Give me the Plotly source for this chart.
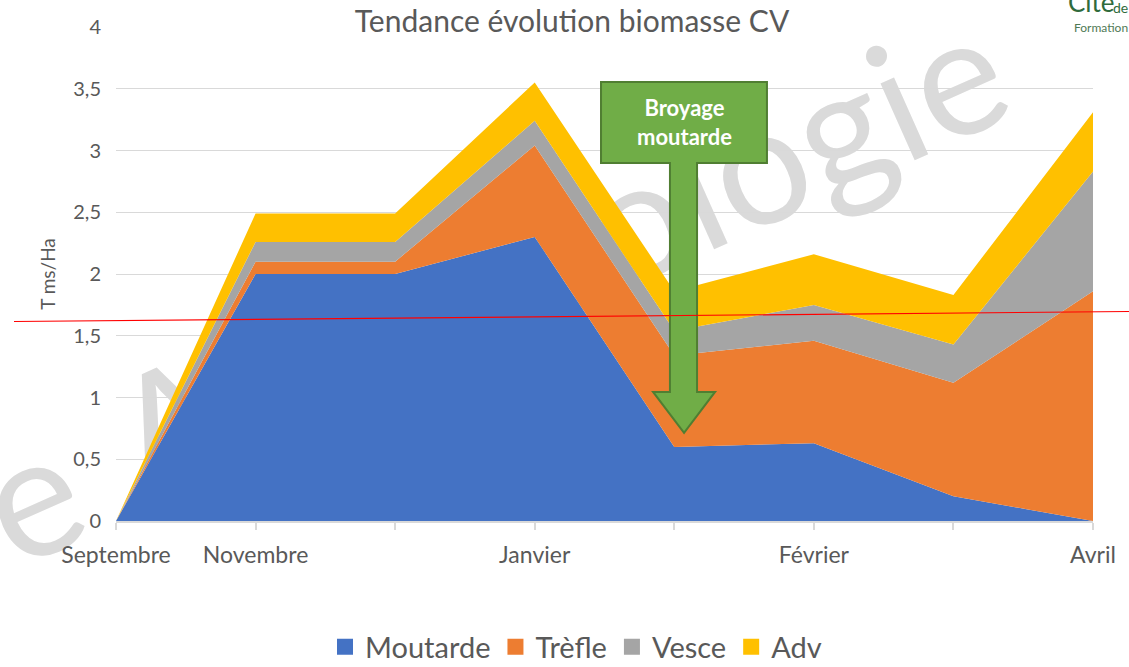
import plotly.graph_objects as go

# ---- data ----
categories = ["Septembre", "Novembre", "", "Janvier", "", "Février", "", "Avril"]
moutarde = [0.0, 2.0, 2.0, 2.30, 0.60, 0.63, 0.20, 0.0]
trefle = [0.0, 0.10, 0.10, 0.74, 0.74, 0.83, 0.92, 1.86]
vesce = [0.0, 0.16, 0.16, 0.20, 0.20, 0.29, 0.31, 0.97]
adv = [0.0, 0.23, 0.23, 0.31, 0.32, 0.41, 0.40, 0.48]
series_names = ["Moutarde", "Trèfle", "Vesce", "Adv"]
y_ticks = [0, 0.5, 1, 1.5, 2, 2.5, 3, 3.5, 4]

colors = ["#4472C4", "#ED7D31", "#A5A5A5", "#FFC000"]
x_idx = list(range(len(categories)))

FONT = "Lato"
TXT = "#595959"

fig = go.Figure()
for name, vals, col in zip(series_names, [moutarde, trefle, vesce, adv], colors):
    fig.add_trace(go.Scatter(
        x=x_idx, y=vals, name=name, stackgroup="one", mode="none",
        fillcolor=col, showlegend=False, hoverinfo="x+y+name",
    ))
# legend entries (square swatches)
for name, col in zip(series_names, colors):
    fig.add_trace(go.Scatter(
        x=[None], y=[None], name=name, mode="markers",
        marker=dict(symbol="square", size=16, color=col), showlegend=True,
    ))

W, H = 1129, 667
L, R, T, B = 116, 36, 27, 146
pw, ph = W - L - R, H - T - B

def px_x(p):
    return (p - L) / pw

def px_y(p):
    return (H - B - p) / ph

def wm_shape(cx, cy, text, size):
    return dict(type="rect", xref="paper", yref="paper",
                x0=px_x(cx - 2), x1=px_x(cx + 2), y0=px_y(cy + 2), y1=px_y(cy - 2),
                line=dict(width=0), fillcolor="rgba(0,0,0,0)", layer="below",
                label=dict(text=text, textangle=-24, textposition="middle center",
                           font=dict(family=FONT, size=size, color="#DADADA")))

shapes = [
    # watermark (below traces)
    wm_shape(28, 490, "e", 170),
    wm_shape(556, 247, "Agroécologie", 166),
    # callout arrow "Broyage moutarde"
    dict(type="path", xref="x", yref="y",
         path=("M 3.475,3.555 L 4.664,3.555 L 4.664,2.899 L 4.163,2.899 "
               "L 4.163,1.045 L 4.292,1.045 L 4.070,0.713 L 3.848,1.045 "
               "L 3.969,1.045 L 3.969,2.899 L 3.475,2.899 Z"),
         fillcolor="#70AD47", line=dict(color="#507E32", width=2), layer="above"),
    # red hand-drawn line
    dict(type="line", xref="paper", yref="paper",
         x0=px_x(14), y0=px_y(321.5), x1=px_x(1129), y1=px_y(311.5),
         line=dict(color="#FF0000", width=1.2), layer="above"),
]

annotations = [
    dict(x=4.07, y=3.227, xref="x", yref="y", showarrow=False,
         text="<b>Broyage<br>moutarde</b>", font=dict(family=FONT, size=22, color="white"),
         align="center"),
    # logo remnants top-right
    dict(x=px_x(1066), y=px_y(2), xref="paper", yref="paper", xanchor="left", yanchor="middle",
         showarrow=False, text="Cité", font=dict(family=FONT, size=26, color="#2F6B3C")),
    dict(x=px_x(1111), y=px_y(8), xref="paper", yref="paper", xanchor="left", yanchor="middle",
         showarrow=False, text="de", font=dict(family=FONT, size=14, color="#2F6B3C")),
    dict(x=px_x(1072), y=px_y(27), xref="paper", yref="paper", xanchor="left", yanchor="middle",
         showarrow=False, text="Formation", font=dict(family=FONT, size=12, color="#4F7A55")),
]

fig.update_layout(
    width=W, height=H, autosize=False,
    margin=dict(l=L, r=R, t=T, b=B, pad=0),
    paper_bgcolor="white", plot_bgcolor="white",
    separators=", ",
    font=dict(family=FONT, color=TXT),
    title=dict(text="Tendance évolution biomasse CV", x=572 / W, xanchor="center",
               xref="container", y=1 - 21 / H, yanchor="middle", yref="container",
               font=dict(family=FONT, size=30, color=TXT)),
    xaxis=dict(range=[0, len(categories) - 1], tickmode="array", tickvals=x_idx,
               ticktext=categories, showgrid=False, zeroline=False,
               showline=True, linecolor="#D9D9D9", linewidth=1.5,
               ticks="outside", ticklen=7, tickcolor="#D9D9D9", tickwidth=1.5,
               tickfont=dict(family=FONT, size=23, color=TXT), ticklabelstandoff=6,
               automargin=False),
    yaxis=dict(range=[0, 4], tickmode="array", tickvals=y_ticks, showgrid=True,
               gridcolor="#D9D9D9", gridwidth=1, zeroline=False, showline=False,
               tickfont=dict(family=FONT, size=20, color=TXT), ticklabelstandoff=14,
               title=dict(text="T ms/Ha", font=dict(family=FONT, size=19, color=TXT), standoff=12),
               automargin=False),
    legend=dict(orientation="h", xref="container", x=576 / W, xanchor="center",
                yref="container", y=(H - 647) / H, yanchor="middle",
                font=dict(family=FONT, size=29, color=TXT), itemsizing="trace",
                traceorder="normal", bgcolor="rgba(0,0,0,0)", itemwidth=30),
    shapes=shapes,
    annotations=annotations,
)

fig.write_html("out.html", config={"displayModeBar": False},
               post_script="document.body.style.margin='0px';document.body.style.padding='0px';")
